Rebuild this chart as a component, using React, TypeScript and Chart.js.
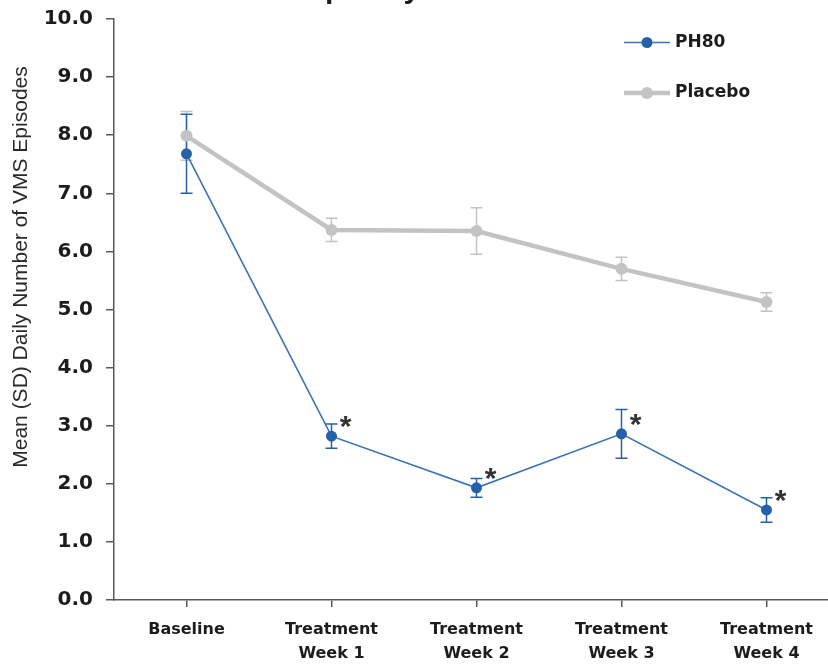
import React, { useEffect, useRef } from "react";
import { Chart, registerables } from "chart.js";

Chart.register(...registerables);

// ---- data ----
const chartTitle = "Frequency of VMS Over Time";
const yAxisTitle = "Mean (SD) Daily Number of VMS Episodes";
const categories: string[][] = [
  ["Baseline"],
  ["Treatment", "Week 1"],
  ["Treatment", "Week 2"],
  ["Treatment", "Week 3"],
  ["Treatment", "Week 4"],
];
const ph80Label = "PH80";
const ph80Mean = [7.68, 2.82, 1.93, 2.86, 1.55];
const ph80SD = [0.68, 0.21, 0.16, 0.42, 0.21];
const ph80Significant = [false, true, true, true, true];
const placeboLabel = "Placebo";
const placeboMean = [7.99, 6.37, 6.35, 5.7, 5.13];
const placeboSD = [0.42, 0.2, 0.4, 0.2, 0.16];
const yMin = 0;
const yMax = 10;
const yStep = 1;

const BLUE = "#2461a8";
const GRAY = "#c3c3c3";
const AXIS = "#595959";
const TEXT = "#1c1c1c";

const SHIFT_Y = 30; // canvas shifted up so the title is cropped like the reference

const errorBarPlugin = {
  id: "errorBars",
  beforeDatasetsDraw(chart: any) {
    const ctx = chart.ctx;
    const ys = chart.scales.y;
    for (let i = chart.data.datasets.length - 1; i >= 0; i--) {
      const ds = chart.data.datasets[i];
      const meta = chart.getDatasetMeta(i);
      ctx.save();
      ctx.strokeStyle = ds.errorColor;
      ctx.lineWidth = 1.5;
      meta.data.forEach((pt: any, j: number) => {
        const m = ds.data[j];
        const e = ds.errors[j];
        const t = ys.getPixelForValue(m + e);
        const b = ys.getPixelForValue(m - e);
        ctx.beginPath();
        ctx.moveTo(pt.x, t);
        ctx.lineTo(pt.x, b);
        ctx.moveTo(pt.x - 6, t);
        ctx.lineTo(pt.x + 6, t);
        ctx.moveTo(pt.x - 6, b);
        ctx.lineTo(pt.x + 6, b);
        ctx.stroke();
      });
      ctx.restore();
    }
  },
};

const annotationsPlugin = {
  id: "annotations",
  afterDraw(chart: any) {
    const ctx = chart.ctx;
    const area = chart.chartArea;
    ctx.save();
    // title (cropped at top of the page)
    ctx.fillStyle = TEXT;
    ctx.font = "bold 30px 'Liberation Sans', Arial, sans-serif";
    ctx.textAlign = "center";
    ctx.textBaseline = "alphabetic";
    ctx.fillText(chartTitle, (area.left + area.right) / 2, SHIFT_Y - 2);

    // y axis title
    ctx.save();
    ctx.translate(21, SHIFT_Y + 267);
    ctx.rotate(-Math.PI / 2);
    ctx.font = "21px 'Liberation Sans', Arial, sans-serif";
    ctx.fillStyle = "#2a2a2a";
    ctx.textAlign = "center";
    ctx.textBaseline = "middle";
    ctx.fillText(yAxisTitle, 0, 0);
    ctx.restore();

    // legend
    const items = chart.data.datasets;
    const legendY = [SHIFT_Y + 42.5, SHIFT_Y + 93];
    items.forEach((ds: any, i: number) => {
      const y = legendY[i];
      ctx.strokeStyle = ds.borderColor;
      ctx.lineWidth = ds.borderWidth;
      ctx.beginPath();
      ctx.moveTo(624, y);
      ctx.lineTo(670, y);
      ctx.stroke();
      ctx.fillStyle = ds.pointBackgroundColor;
      ctx.beginPath();
      ctx.arc(647, y, ds.pointRadius, 0, Math.PI * 2);
      ctx.fill();
      ctx.fillStyle = TEXT;
      ctx.font = "bold 17px 'DejaVu Sans', sans-serif";
      ctx.textAlign = "left";
      ctx.textBaseline = "middle";
      ctx.fillText(ds.label, 675, y);
    });

    // significance asterisks
    const meta = chart.getDatasetMeta(0);
    ctx.fillStyle = "#333";
    ctx.font = "bold 30px 'Liberation Sans', Arial, sans-serif";
    ctx.textAlign = "center";
    ctx.textBaseline = "alphabetic";
    meta.data.forEach((pt: any, j: number) => {
      if (ph80Significant[j]) ctx.fillText("*", pt.x + 14, pt.y - 17 + 17);
    });
    ctx.restore();
  },
};

export default function App() {
  const ref = useRef<HTMLCanvasElement | null>(null);
  useEffect(() => {
    if (!ref.current) return;
    const chart = new Chart(ref.current, {
      type: "line",
      data: {
        labels: categories,
        datasets: [
          {
            label: ph80Label,
            data: ph80Mean,
            errors: ph80SD,
            errorColor: BLUE,
            borderColor: "#3a73b6",
            backgroundColor: BLUE,
            pointBackgroundColor: BLUE,
            pointBorderColor: BLUE,
            borderWidth: 1.6,
            pointRadius: 5.5,
            pointBorderWidth: 0,
            tension: 0,
          } as any,
          {
            label: placeboLabel,
            data: placeboMean,
            errors: placeboSD,
            errorColor: GRAY,
            borderColor: GRAY,
            backgroundColor: GRAY,
            pointBackgroundColor: GRAY,
            pointBorderColor: GRAY,
            borderWidth: 4.5,
            pointRadius: 6,
            pointBorderWidth: 0,
            tension: 0,
          } as any,
        ],
      },
      options: {
        animation: false,
        responsive: false,
        devicePixelRatio: 1,
        layout: { padding: { top: SHIFT_Y + 19, right: 21, bottom: 0, left: 0 } },
        plugins: {
          legend: { display: false },
          title: { display: false },
          tooltip: { enabled: false },
        },
        scales: {
          x: {
            type: "category",
            offset: true,
            afterFit: (s: any) => {
              s.height = 90;
            },
            grid: {
              display: true,
              drawOnChartArea: false,
              drawTicks: true,
              tickLength: 7,
              offset: false,
              color: AXIS,
              lineWidth: 1.5,
            },
            border: { display: true, color: AXIS, width: 1.5 },
            ticks: {
              color: TEXT,
              padding: 11,
              maxRotation: 0,
              autoSkip: false,
              font: { family: "'DejaVu Sans', sans-serif", size: 16, weight: "bold", lineHeight: 1.5 },
            },
          },
          y: {
            min: yMin,
            max: yMax,
            afterFit: (s: any) => {
              s.width = 114;
            },
            grid: {
              display: true,
              drawOnChartArea: false,
              drawTicks: true,
              tickLength: 8,
              color: AXIS,
              lineWidth: 1.5,
            },
            border: { display: true, color: AXIS, width: 1.5 },
            ticks: {
              stepSize: yStep,
              color: TEXT,
              padding: 13,
              callback: (v: any) => Number(v).toFixed(1),
              font: { family: "'DejaVu Sans', sans-serif", size: 20, weight: "bold" },
            },
          },
        },
      },
      plugins: [errorBarPlugin, annotationsPlugin],
    });
    return () => chart.destroy();
  }, []);

  return (
    <div
      style={{
        position: "fixed",
        left: 0,
        top: 0,
        width: 828,
        height: 664,
        overflow: "hidden",
        background: "#ffffff",
      }}
    >
      <canvas
        ref={ref}
        width={860}
        height={720}
        style={{ position: "absolute", left: 0, top: -SHIFT_Y, width: 860, height: 720 }}
      />
    </div>
  );
}
